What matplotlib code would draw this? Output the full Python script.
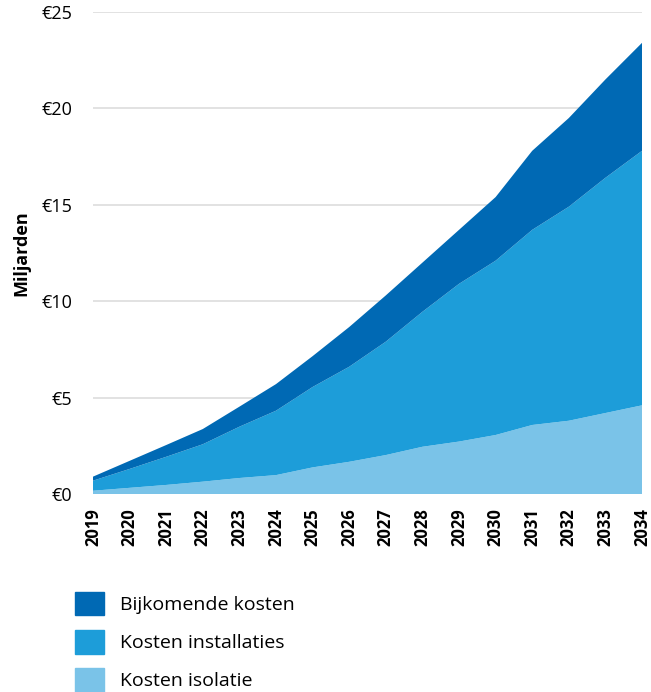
import matplotlib
matplotlib.use("Agg")
import matplotlib.pyplot as plt
from matplotlib.patches import Patch
import numpy as np

# jaren en kosten (miljarden euro)
years = [str(y) for y in range(2019, 2035)]
isolatie = [0.17, 0.32, 0.47, 0.64, 0.83, 0.98, 1.38, 1.67, 2.02, 2.45, 2.72, 3.06, 3.58, 3.8, 4.2, 4.6]
installaties_top = [0.69, 1.3, 1.93, 2.58, 3.49, 4.32, 5.55, 6.6, 7.9, 9.45, 10.9, 12.1, 13.7, 14.9, 16.4, 17.8]
totaal = [0.9, 1.72, 2.54, 3.37, 4.53, 5.7, 7.15, 8.66, 10.3, 12.0, 13.7, 15.4, 17.8, 19.5, 21.5, 23.4]

installaties = [t - i for t, i in zip(installaties_top, isolatie)]
bijkomend = [t - m for t, m in zip(totaal, installaties_top)]

series_labels = ["Kosten isolatie", "Kosten installaties", "Bijkomende kosten"]
colors = ["#7ac3e8", "#1d9dd9", "#0069b4"]

yticks = [0, 5, 10, 15, 20, 25]
ytick_labels = ["€0", "€5", "€10", "€15", "€20", "€25"]

plt.rcParams['font.family'] = ['Open Sans', 'DejaVu Sans']

fig = plt.figure(figsize=(6.51, 6.92), dpi=100)
ax = fig.add_axes([93/651, 1 - 494/692, 549/651, 482/692])

x = np.arange(len(years))
ax.stackplot(x, isolatie, installaties, bijkomend, colors=colors, linewidth=0, zorder=2)

ax.set_xlim(0, len(years) - 1)
ax.set_ylim(0, 25)
ax.set_yticks(yticks)
ax.set_yticklabels(ytick_labels, fontsize=13)
ax.set_xticks(x)
ax.set_xticklabels(years, rotation=90, fontsize=12, fontweight='bold')
ax.tick_params(axis='both', length=0)
ax.tick_params(axis='y', pad=15)
ax.tick_params(axis='x', pad=10)
ax.grid(axis='y', color='#dddddd', linewidth=1.2, zorder=0)
for s in ax.spines.values():
    s.set_visible(False)
ax.set_ylabel("Miljarden", fontsize=13, fontweight='bold', labelpad=8)

handles = [Patch(color=c) for c in colors[::-1]]
fig.legend(handles, series_labels[::-1], loc='upper left',
           bbox_to_anchor=(57/651, 1 - 574/692), frameon=False,
           fontsize=14, handlelength=1.5, handleheight=1.5,
           labelspacing=0.75, handletextpad=0.85)

fig.savefig("out.png", dpi=100)
